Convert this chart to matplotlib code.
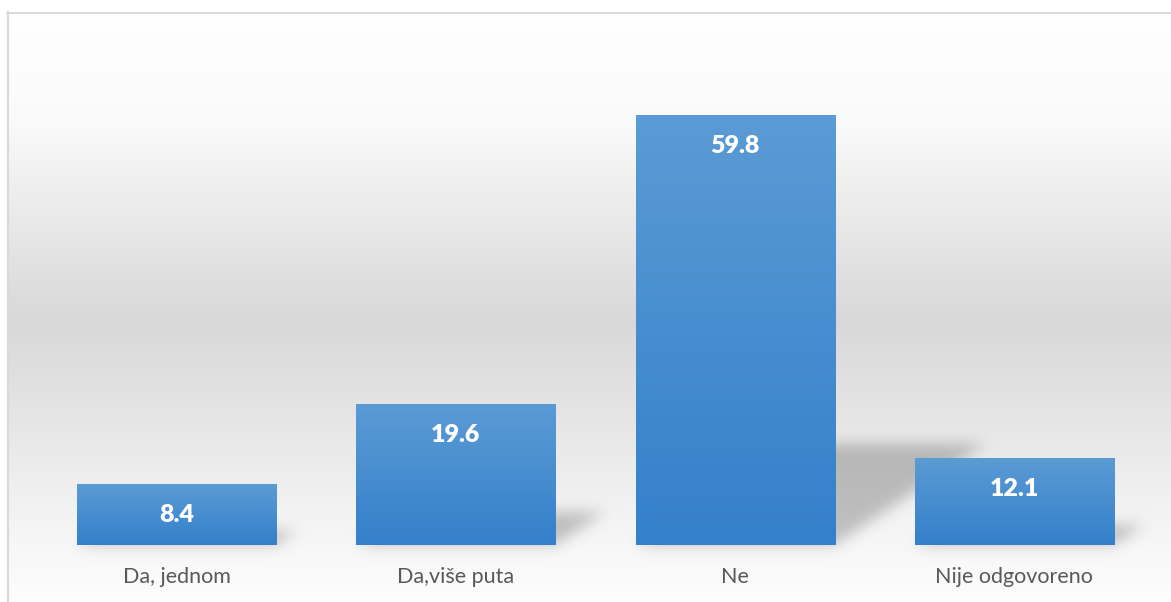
import numpy as np
import matplotlib
matplotlib.use('Agg')
import matplotlib.pyplot as plt
from matplotlib.path import Path

plt.rcParams['font.family'] = ['Lato', 'DejaVu Sans']

categories = ['Da, jednom', 'Da,više puta', 'Ne', 'Nije odgovoreno']
values = [8.4, 19.6, 59.8, 12.1]

W, H = 1171, 602
fig = plt.figure(figsize=(W / 100, H / 100), dpi=100)

# background axes in pixel units (origin bottom-left)
bg = fig.add_axes([0, 0, 1, 1])
bg.set_xlim(0, W)
bg.set_ylim(0, H)
bg.axis('off')

ax = fig.add_axes([37 / W, 57 / H, 1117 / W, 503 / H])
ax.set_xlim(-0.5, len(values) - 0.5)
ax.set_ylim(0, 70)
ax.patch.set_alpha(0)
for s in ax.spines.values():
    s.set_visible(False)
ax.set_yticks([])
x = np.arange(len(values))
ax.set_xticks(x)
ax.set_xticklabels(categories, fontsize=15.5, color='#595959')
ax.tick_params(axis='x', length=0, pad=16)

bar_w = 0.713
top_c = np.array([91, 155, 213]) / 255
bot_c = np.array([52, 128, 202]) / 255
for xi, v in zip(x, values):
    t = np.linspace(0, 1, 128)[:, None]
    grad = (top_c * (1 - t) + bot_c * t)[:, None, :]
    ax.imshow(grad, extent=[xi - bar_w / 2, xi + bar_w / 2, 0, v],
              aspect='auto', zorder=3, interpolation='bilinear')
    ax.annotate(f'{v:.1f}', (xi, v), xytext=(0, -22), textcoords='offset points',
                ha='center', va='center', color='white', fontsize=18,
                fontweight='heavy', zorder=4)
ax.set_xlim(-0.5, len(values) - 0.5)
ax.set_ylim(0, 70)

# page gradient: white at top, gray in the middle, near-white at the bottom
rows = np.arange(H)[:, None]  # image row 0 = top
stops_y = [12, 120, 320, 545, 602]
stops_v = [255, 250, 216, 247, 253]
shade = np.interp(rows[:, 0], stops_y, stops_v) / 255
img = np.ones((H, W, 3))
img[:, :, :] = shade[:, None, None]
img[:12, :, :] = 1
img[:, :7, :] = 1

# perspective shadows cast to the right of each bar
fig.canvas.draw()
yy, xx = np.mgrid[0:H, 0:W]
pts = np.column_stack([xx.ravel() + 0.5, (H - yy.ravel()) - 0.5])
mask = np.zeros(H * W)
for xi, v in zip(x, values):
    (xl, yb), (xr, yt) = ax.transData.transform([(xi - bar_w / 2, 0), (xi + bar_w / 2, v)])
    h = yt - yb
    poly = Path([(xl, yb), (xr, yb), (xr + 0.35 * h, yb + 0.235 * h),
                 (xl + 0.35 * h, yb + 0.235 * h), (xl, yb)])
    mask = np.maximum(mask, poly.contains_points(pts))
mask = mask.reshape(H, W)
kern = np.exp(-0.5 * (np.arange(-20, 21) / 7.0) ** 2)
kern /= kern.sum()
mask = np.apply_along_axis(lambda r: np.convolve(r, kern, mode='same'), 1, mask)
mask = np.apply_along_axis(lambda c: np.convolve(c, kern, mode='same'), 0, mask)
img = img * (1 - 0.22 * mask[:, :, None])

bg.imshow(img, extent=[0, W, 0, H], aspect='auto', zorder=0, interpolation='nearest')
bg.plot([8, 8], [0, H - 12], color='#d9d9d9', lw=1.5, zorder=1)
bg.plot([7, W], [H - 13, H - 13], color='#d9d9d9', lw=1.5, zorder=1)
bg.set_xlim(0, W)
bg.set_ylim(0, H)

fig.savefig('out.png', dpi=100)
